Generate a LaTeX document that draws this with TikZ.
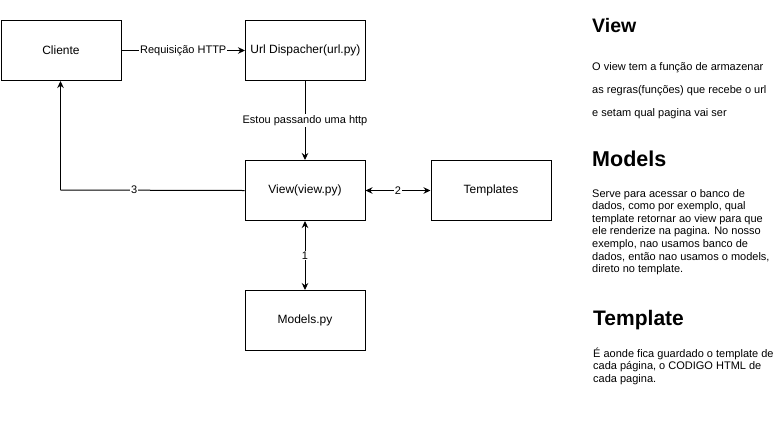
\documentclass[tikz,border=0pt]{standalone}
\usepackage{fontspec}
\setmainfont{Liberation Sans}
\usetikzlibrary{arrows.meta}
\begin{document}
\begin{tikzpicture}[x=1pt,y=-1pt,
  box/.style={draw=black,line width=1pt,minimum width=120pt,minimum height=60pt,inner sep=0pt,font=\fontsize{12}{14}\selectfont,anchor=north west},
  conn/.style={line width=1pt,-{Stealth[length=7pt,width=6.5pt]}},
  dconn/.style={line width=1pt,{Stealth[length=7pt,width=6.5pt]}-{Stealth[length=7pt,width=6.5pt]}},
  lbl/.style={fill=white,inner sep=1pt,font=\fontsize{11}{13}\selectfont},
  head/.style={anchor=base west,inner sep=0pt,font=\fontsize{#1}{#1}\selectfont\bfseries},
  para/.style={anchor=base west,inner sep=0pt,font=\fontsize{11}{13}\selectfont}]
\useasboundingbox[fill=white] (0,0) rectangle (778,421);
\node[box] (cli) at (0.5,20) {Cliente};
\node[box] (url) at (245,20) {Url Dispacher(url.py)};
\node[box] (view) at (244.5,160) {View(view.py)};
\node[box] (tpl) at (430.5,160) {Templates};
\node[box] (mod) at (244.5,290) {Models.py};
\coordinate (corner) at (60.5,190);
\draw[conn] (cli.east) -- node[lbl]{Requisição HTTP} (url.west);
\draw[conn] (url.south -| view.north) -- node[lbl]{Estou passando uma http} (view.north);
\draw[line width=1pt] (view.west) -- node[lbl,pos=0.6]{3} (corner);
\draw[conn] (corner) -- (corner |- cli.south);
\draw[dconn] (view.east) -- node[lbl]{2} (tpl.west);
\draw[dconn] (view.south) -- node[lbl]{1} (mod.north);
% right column
\node[head=19.5] (hv) at (592,32) {View};
\node[para] (v1) at (592,70) {O view tem a função de armazenar};
\node[para] (v2) at (592,93) {as regras(funções) que recebe o url};
\node[para] (v3) at (592,116) {e setam qual pagina vai ser};
\node[head=21.5] (hm) at (592,166) {Models};
\node[para] (m1) at (592,197) {Serve para acessar o banco de};
\node[para] (m2) at (592,209.6) {dados, como por exemplo, qual};
\node[para] (m3) at (592,222.2) {template retornar ao view para que};
\node[para] (m4) at (592,234.8) {ele renderize na pagina. No nosso};
\node[para] (m5) at (592,247.4) {exemplo, nao usamos banco de};
\node[para] (m6) at (592,260) {dados, então nao usamos o models,};
\node[para] (m7) at (592,272.6) {direto no template.};
\node[head=21] (ht) at (593,325) {Template};
\node[para] (t1) at (593,357) {É aonde fica guardado o template de};
\node[para] (t2) at (593,369.5) {cada página, o CODIGO HTML de};
\node[para] (t3) at (593,382) {cada pagina.};
\end{tikzpicture}
\end{document}
